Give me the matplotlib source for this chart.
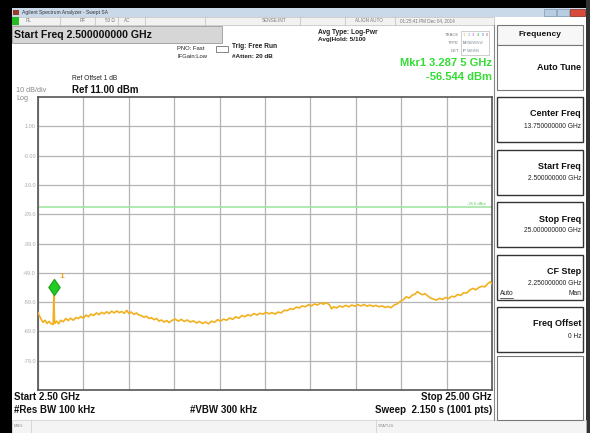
import matplotlib
matplotlib.use("Agg")
import matplotlib.pyplot as plt
from matplotlib.patches import Rectangle
from matplotlib.path import Path
import numpy as np

plt.rcParams['font.family'] = ['Liberation Sans', 'DejaVu Sans']

W, H = 590, 433

# Trace (GHz, dBm)
freq_ghz = [2.50, 2.58, 2.66, 2.75, 2.85, 2.95, 3.05, 3.15, 3.25, 3.2875, 3.32, 3.42, 3.52,
            3.62, 3.75, 3.88, 4.00, 4.12, 4.25, 4.38, 4.50, 4.62, 4.75, 4.88, 5.00, 5.12,
            5.25, 5.40, 5.52, 5.65, 5.78, 5.90, 6.02, 6.15, 6.28, 6.40, 6.52, 6.65, 6.78,
            6.90, 7.00, 7.12, 7.25, 7.38, 7.50, 7.62, 7.75, 7.88, 8.00, 8.12, 8.25, 8.38,
            8.50, 8.62, 8.75, 8.88, 9.00, 9.15, 9.30, 9.45, 9.60, 9.75, 9.90, 10.05, 10.20,
            10.35, 10.50, 10.65, 10.80, 10.95, 11.10, 11.25, 11.40, 11.55, 11.70, 11.85,
            12.00, 12.15, 12.30, 12.45, 12.60, 12.75, 12.90, 13.05, 13.20, 13.35, 13.50,
            13.65, 13.80, 13.95, 14.10, 14.25, 14.40, 14.55, 14.70, 14.85, 15.00, 15.15,
            15.30, 15.45, 15.60, 15.75, 15.90, 16.05, 16.20, 16.35, 16.50, 16.65, 16.80,
            16.95, 17.05, 17.15, 17.30, 17.45, 17.60, 17.75, 17.90, 18.05, 18.20, 18.35,
            18.50, 18.65, 18.80, 18.95, 19.10, 19.25, 19.40, 19.55, 19.70, 19.85, 20.00,
            20.15, 20.30, 20.45, 20.60, 20.75, 20.90, 21.05, 21.20, 21.30, 21.42, 21.55,
            21.68, 21.80, 21.95, 22.10, 22.25, 22.40, 22.55, 22.70, 22.85, 23.00, 23.15,
            23.30, 23.45, 23.60, 23.75, 23.90, 24.05, 24.20, 24.35, 24.50, 24.65, 24.80,
            24.92, 25.00]
level_dbm = [-62.6, -63.8, -64.9, -65.9, -65.2, -66.3, -65.6, -66.4, -66.6, -56.5, -66.3, -65.5, -66.4,
             -65.2, -65.7, -64.6, -65.3, -64.5, -65.2, -64.3, -64.6, -63.9, -64.5, -63.4, -64.0, -63.1,
             -63.6, -62.7, -63.3, -62.5, -63.0, -62.3, -62.9, -62.1, -62.7, -62.0, -62.6, -62.2, -62.8,
             -61.8, -62.9, -62.4, -63.2, -62.7, -63.4, -63.6, -64.2, -63.8, -64.6, -64.3, -65.0, -64.6,
             -65.5, -65.1, -65.8, -65.3, -66.0, -65.2, -64.8, -65.5, -64.9, -65.6, -65.1, -65.8, -65.4,
             -66.1, -65.6, -66.3, -65.8, -66.4, -65.5, -65.9, -65.0, -65.5, -64.8, -65.2,
             -64.4, -64.9, -64.0, -64.5, -63.6, -64.0, -63.3, -63.7, -62.9, -63.4, -62.8,
             -63.1, -62.5, -63.0, -62.6, -63.1, -62.4, -62.7, -61.8, -61.9, -61.2, -61.5,
             -60.7, -61.0, -60.3, -60.6, -59.9, -60.3, -59.6, -60.0, -59.3, -59.7, -59.2,
             -60.0, -61.3, -60.6, -61.0, -60.3, -60.7, -60.1, -60.6, -60.0, -60.4, -59.9,
             -60.3, -59.8, -60.4, -60.0, -60.5, -60.1, -60.6, -60.3, -60.8, -60.5, -60.9,
             -60.0, -59.6, -58.8, -58.2, -57.2, -57.6, -56.6, -56.2, -55.4, -56.0, -56.5,
             -56.1, -56.8, -57.6, -58.0, -58.3, -57.7, -58.1, -57.4, -57.8, -57.0, -57.2,
             -56.4, -56.7, -55.8, -55.9, -54.9, -54.3, -54.8, -54.0, -53.6, -53.8, -52.6,
             -52.1, -52.8]

start_ghz, stop_ghz = 2.5, 25.0
ref_level, db_per_div = 11.0, 10.0
y_labels = ["1.00", "-9.00", "-19.0", "-29.0", "-39.0", "-49.0", "-59.0", "-69.0", "-79.0"]
marker_ghz, marker_dbm = 3.2875, -56.544
display_line = -26.6

softkeys = [("Center Freq", "13.750000000 GHz"), ("Start Freq", "2.500000000 GHz"),
            ("Stop Freq", "25.000000000 GHz"), ("CF Step", "2.250000000 GHz"),
            ("Freq Offset", "0 Hz")]


def fx(x):
    return x / W


def fy(y):
    return 1 - y / H


def rect(x0, y0, x1, y1, **kw):
    fig.add_artist(Rectangle((fx(x0), fy(y1)), fx(x1 - x0), (y1 - y0) / H,
                             transform=fig.transFigure, **kw))


def txt(x, y, s, **kw):
    kw.setdefault("va", "center")
    fig.text(fx(x), fy(y), s, **kw)


fig = plt.figure(figsize=(W / 100, H / 100), dpi=100)
fig.patch.set_facecolor("white")

# black screen border
rect(0, 0, W, 8, facecolor="black", lw=0)
rect(0, 0, 12, H, facecolor="black", lw=0)
rect(586, 0, W, H, facecolor="#333333", lw=0)

# window title bar
rect(12, 8, 586, 17, facecolor="#c9d9ea", lw=0)
rect(13, 10, 19, 15, facecolor="#9a3a2a", lw=0)
txt(22, 12.5, "Agilent Spectrum Analyzer - Swept SA", fontsize=3.6, color="#333333")
rect(544, 9, 556, 16, facecolor="#b8cde0", edgecolor="#7f9ab5", lw=0.5)
rect(557, 9, 569, 16, facecolor="#b8cde0", edgecolor="#7f9ab5", lw=0.5)
rect(570, 9, 585, 16, facecolor="#d64b3a", edgecolor="#8a2a20", lw=0.5)

# status row
rect(12, 17, 494, 25, facecolor="#f2f2f2", edgecolor="#b0b0b0", lw=0.4)
rect(12, 17, 19, 25, facecolor="#22bb22", lw=0)
for xs in [60, 95, 118, 145, 205, 300, 345, 395]:
    fig.add_artist(plt.Line2D([fx(xs), fx(xs)], [fy(17), fy(25)], color="#b0b0b0", lw=0.4))
for x, s in [(26, "RL"), (80, "RF"), (105, "50 Ω"), (124, "AC"), (262, "SENSE:INT"),
             (355, "ALIGN AUTO"), (400, "01:25:41 PM Dec 04, 2014")]:
    txt(x, 21, s, fontsize=3.3, color="#777777")

# active function box
rect(12, 26, 222, 43, facecolor="#d6d6d6", edgecolor="#9a9a9a", lw=0.6)
txt(14, 35, "Start Freq 2.500000000 GHz", fontsize=7.6, fontweight="bold", color="#111111")

txt(177, 49, "PNO: Fast", fontsize=4.2, color="#222222")
txt(178, 57, "IFGain:Low", fontsize=4.2, color="#222222")
rect(216, 46, 228, 52, facecolor="white", edgecolor="#555555", lw=0.5)
txt(232, 47, "Trig: Free Run", fontsize=4.8, fontweight="bold", color="#222222")
txt(232, 57, "#Atten: 20 dB", fontsize=4.6, fontweight="bold", color="#222222")
txt(318, 32, "Avg Type: Log-Pwr", fontsize=4.8, fontweight="bold", color="#222222")
txt(318, 40, "Avg|Hold: 5/100", fontsize=4.6, fontweight="bold", color="#222222")

txt(459, 35, "TRACE", fontsize=3, color="#777777", ha="right")
txt(459, 43, "TYPE", fontsize=3, color="#777777", ha="right")
txt(459, 51, "DET", fontsize=3, color="#777777", ha="right")
rect(461, 31, 489, 55, facecolor="white", edgecolor="#aaaaaa", lw=0.4)
for i, c in enumerate(["#f0b020", "#55aaee", "#e040e0", "#30b030", "#2080ff", "#e04040"]):
    txt(463 + i * 4.6, 35, str(i + 1), fontsize=3, color=c)
txt(463, 43, "M", fontsize=3, color="#555555")
txt(467, 43, "WWWWW", fontsize=2.6, color="#8899aa")
txt(463, 51, "P", fontsize=3, color="#555555")
txt(467, 51, "NNNNN", fontsize=2.6, color="#8899aa")

txt(492, 63, "Mkr1 3.287 5 GHz", fontsize=8, fontweight="bold", color="#33dd33", ha="right")
txt(492, 77, "-56.544 dBm", fontsize=8, fontweight="bold", color="#33dd33", ha="right")

txt(72, 79, "Ref Offset 1 dB", fontsize=4.8, color="#222222")
txt(72, 90, "Ref 11.00 dBm", fontsize=7, fontweight="bold", color="#111111")
txt(16, 91, "10 dB/div", fontsize=5.2, color="#888888")
txt(16, 99, "Log", fontsize=5.2, color="#888888")

# trace graticule
ax = fig.add_axes([fx(38), fy(390), fx(492 - 38), (390 - 97) / H])
ax.set_xlim(start_ghz, stop_ghz)
ax.set_ylim(ref_level - 10 * db_per_div, ref_level)
ax.set_xticks(np.linspace(start_ghz, stop_ghz, 11))
ax.set_yticks(ref_level - db_per_div * np.arange(1, 10))
ax.set_xticklabels([])
ax.set_yticklabels(y_labels, fontsize=4, color="#aaaaaa")
ax.tick_params(length=0, pad=1.5)
ax.grid(True, color="#b4b4b4", lw=0.9)
for sp in ax.spines.values():
    sp.set_color("#555555")
    sp.set_linewidth(1.2)

ax.axhline(display_line, color="#9be39b", lw=1.1, zorder=2)
ax.text(stop_ghz - 0.3, display_line + 0.4, "-26.6 dBm", fontsize=3, color="#55cc55",
        ha="right", va="bottom")
ax.plot(freq_ghz, level_dbm, color="#f2b01e", lw=1.2, zorder=3)

diamond = Path([(0, 0), (0.7, 1), (0, 2), (-0.7, 1), (0, 0)],
               [Path.MOVETO, Path.LINETO, Path.LINETO, Path.LINETO, Path.CLOSEPOLY])
ax.plot([marker_ghz], [marker_dbm], marker=diamond, ms=23, color="#22cc22",
        markeredgecolor="#22aa22", zorder=4)
ax.annotate("1", (marker_ghz, marker_dbm), xytext=(4, 12), textcoords="offset points",
            fontsize=6, color="#f0a020", fontweight="bold")

# bottom annotations
txt(14, 397, "Start 2.50 GHz", fontsize=7, fontweight="bold", color="#111111")
txt(14, 410, "#Res BW 100 kHz", fontsize=7, fontweight="bold", color="#111111")
txt(190, 410, "#VBW 300 kHz", fontsize=7, fontweight="bold", color="#111111")
txt(492, 397, "Stop 25.00 GHz", fontsize=7, fontweight="bold", color="#111111", ha="right")
txt(492, 410, "Sweep  2.150 s (1001 pts)", fontsize=7, fontweight="bold", color="#111111",
    ha="right")

# message bar
rect(12, 420, 586, H, facecolor="#f4f4f4", edgecolor="#c0c0c0", lw=0.4)
fig.add_artist(plt.Line2D([fx(31), fx(31)], [fy(420), fy(H)], color="#c0c0c0", lw=0.4))
fig.add_artist(plt.Line2D([fx(376), fx(376)], [fy(420), fy(H)], color="#c0c0c0", lw=0.4))
txt(14, 426, "MSG", fontsize=3, color="#888888")
txt(378, 426, "STATUS", fontsize=3, color="#888888")

# divider and softkey panel
fig.add_artist(plt.Line2D([fx(494), fx(494)], [fy(25), fy(420)], color="#888888", lw=0.8))
rect(497, 25, 583, 45, facecolor="#f7f7f7", edgecolor="#777777", lw=0.8)
txt(540, 35, "Frequency", fontsize=6, fontweight="bold", color="#111111", ha="center")
rect(497, 45, 583, 90, facecolor="white", edgecolor="#777777", lw=0.8)
txt(581, 67, "Auto Tune", fontsize=6.5, fontweight="bold", color="#111111", ha="right")

for i, (name, val) in enumerate(softkeys):
    top = 97 + i * 52.5
    rect(497, top, 583, top + 45, facecolor="white", edgecolor="#333333", lw=1.0)
    txt(581, top + 17, name, fontsize=6.5, fontweight="bold", color="#111111", ha="right")
    txt(581, top + 29, val, fontsize=4.8, color="#222222", ha="right")
    if name == "CF Step":
        txt(500, top + 39, "Auto", fontsize=4.8, color="#222222")
        fig.add_artist(plt.Line2D([fx(500), fx(513)], [fy(top + 43), fy(top + 43)],
                                  color="#222222", lw=0.5))
        txt(581, top + 39, "Man", fontsize=4.8, color="#222222", ha="right")
rect(497, 356, 583, 420, facecolor="white", edgecolor="#777777", lw=0.8)

fig.savefig("out.png", dpi=100)
